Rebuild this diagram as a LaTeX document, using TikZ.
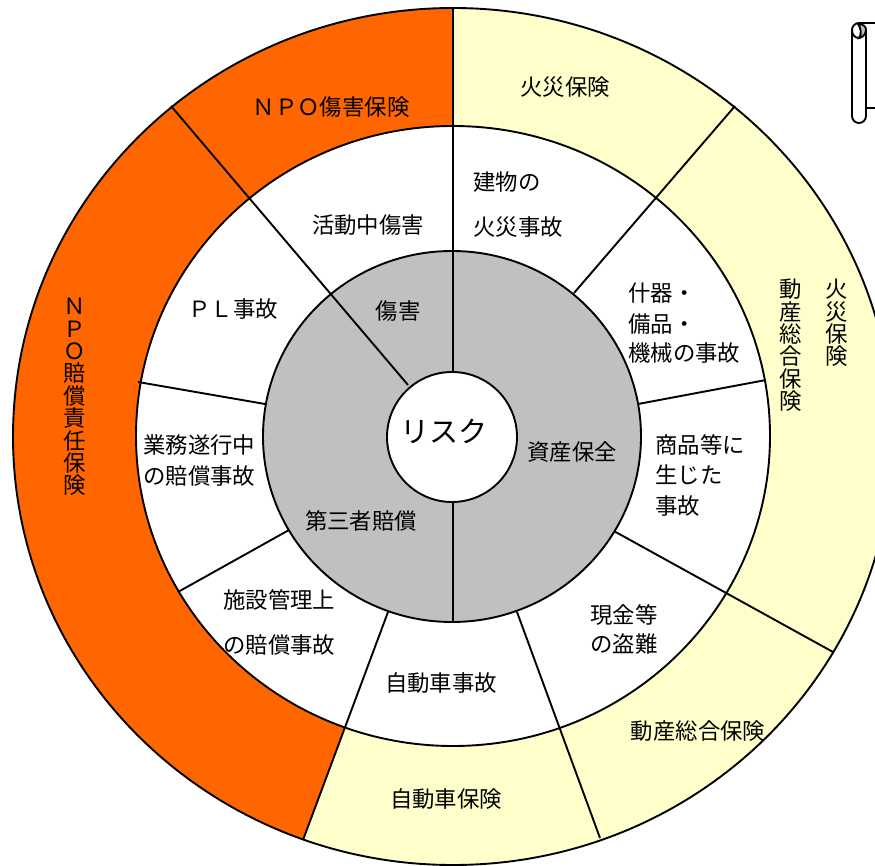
\documentclass[tikz,border=0pt]{standalone}
\usepackage{fontspec}
\setmainfont{Noto Sans CJK JP}
\definecolor{npoorange}{HTML}{FF6600}
\definecolor{hokenyellow}{HTML}{FFFFCC}
\definecolor{riskgray}{HTML}{C0C0C0}
\tikzset{
  ringline/.style={draw=black,line width=1.9pt},
  seplabel/.style={inner sep=0pt,font=\fontsize{22.4}{26}\selectfont},
  leftlabel/.style={seplabel,anchor=west},
  tatelabel/.style={seplabel,align=center,anchor=north,font=\fontsize{22.4}{22.4}\selectfont},
}
\begin{document}
\begin{tikzpicture}[x=1pt,y=-1pt]
 \clip (0,0) rectangle (875,866);
 \fill[white] (0,0) rectangle (875,866);
 % outer ring
 \fill[hokenyellow] (453,436.5) ellipse [x radius=440,y radius=428.5];
 \begin{scope}
  \clip (453,436) -- (453,-10) -- (-10,-10) -- (-10,876) -- (290,876) -- cycle;
  \fill[npoorange] (453,436.5) ellipse [x radius=440,y radius=428.5];
 \end{scope}
 \draw[ringline] (453,436.5) ellipse [x radius=440,y radius=428.5];
 % middle ring
 \draw[ringline,fill=white] (453,436) ellipse [x radius=317,y radius=310];
 % radial lines
 \coordinate (topout) at (453,8);
 \coordinate (topin) at (453,372);
 \coordinate (botout) at (453,622);
 \coordinate (botin) at (453,502);
 \draw[ringline] (735,106) -- (574,293);
 \draw[ringline] (766,380) -- (638,404);
 \draw[ringline] (833,652) -- (612,530);
 \draw[ringline] (600,838) -- (517,612);
 \draw[ringline] (303,840) -- (388,612);
 \draw[ringline] (178,592) -- (289,530);
 \draw[ringline] (138,382) -- (265,404);
 % gray ring
 \draw[ringline,fill=riskgray] (452,436.5) ellipse [x radius=189,y radius=185.5];
 \draw[ringline] (topout) -- (topin);
 \draw[ringline] (botout) -- (botin);
 \draw[ringline] (171,106) -- (408,385);
 % center
 \draw[ringline,fill=white] (452,437) ellipse [x radius=65,y radius=65];
 \node[inner sep=0pt,font=\fontsize{29}{34}\selectfont] (risk) at (444,431) {リスク};
 % inner labels
 \node[seplabel] (shogai) at (398,311) {傷害};
 \node[seplabel] (shisan) at (572,452) {資産保全};
 \node[seplabel] (daisan) at (361,521) {第三者賠償};
 % middle labels
 \node[seplabel] (katsudo) at (368,225) {活動中傷害};
 \node[leftlabel] (tatemono) at (473,182) {建物の};
 \node[leftlabel] (kasaijiko) at (473,227) {火災事故};
 \node[leftlabel] (juki) at (628,293) {什器・};
 \node[leftlabel] (bihin) at (628,324) {備品・};
 \node[leftlabel] (kikai) at (628,353) {機械の事故};
 \node[leftlabel] (shohin) at (655,445) {商品等に};
 \node[leftlabel] (shojita) at (655,475) {生じた};
 \node[leftlabel] (jiko) at (655,506) {事故};
 \node[leftlabel] (genkin) at (590,615) {現金等};
 \node[leftlabel] (tonan) at (590,644) {の盗難};
 \node[seplabel] (jidoshajiko) at (441,683) {自動車事故};
 \node[leftlabel] (shisetsu) at (223,600) {施設管理上};
 \node[leftlabel] (baishoa) at (223,645) {の賠償事故};
 \node[leftlabel] (gyomu) at (143,445) {業務遂行中};
 \node[leftlabel] (baishob) at (143,476) {の賠償事故};
 \node[seplabel] (pl) at (233,309) {ＰＬ事故};
 % outer labels
 \node[seplabel] (npoinj) at (331,107) {ＮＰＯ傷害保険};
 \node[seplabel] (kasai) at (565,87) {火災保険};
 \node[seplabel] (dosan) at (698,731) {動産総合保険};
 \node[seplabel] (jidosha) at (446,799) {自動車保険};
 \node[tatelabel] (dosantate) at (791,279) {動\\産\\総\\合\\保\\険};
 \node[tatelabel] (kasaitate) at (837,279) {火\\災\\保\\険};
 \node[tatelabel] (npotate) at (74.5,298) {Ｎ\\Ｐ\\Ｏ\\賠\\償\\責\\任\\保\\険};
 % scroll
 \draw[ringline,rounded corners=7pt] (875,23) -- (852,23) -- (852,123) -- (866,123) -- (866,30);
 \draw[ringline] (866,108) -- (875,108);
 \draw[ringline,fill=riskgray] (858,24) .. controls (864,24) and (866,27) .. (866,30) .. controls (866,36) and (860,38) .. (859,38) .. controls (862,34) and (861,28) .. (858,24);
 \draw[ringline] (852,30) .. controls (852,35) and (855,38) .. (859,38);
\end{tikzpicture}
\end{document}
